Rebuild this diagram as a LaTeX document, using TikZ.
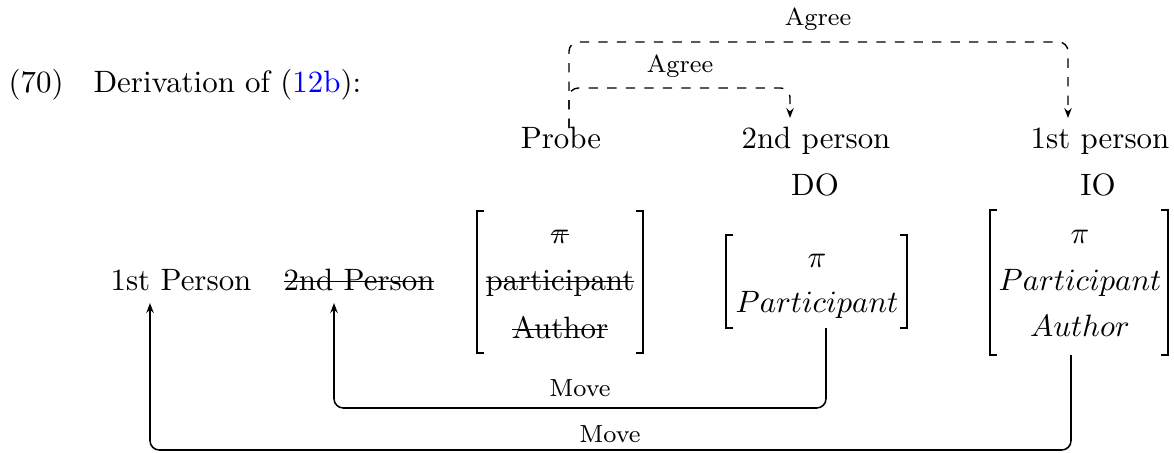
\documentclass[tikz,border=0pt]{standalone}
\usetikzlibrary{arrows.meta}
\newsavebox\strkbox
\newcommand\strk[1]{\sbox\strkbox{#1}\rlap{\rule[2.5pt]{\wd\strkbox}{0.4pt}}\usebox\strkbox}
\begin{document}
\begin{tikzpicture}[x=0.3236pt,y=-0.3236pt,
  txt/.style={inner sep=0pt, anchor=base},
  lbl/.style={font=\footnotesize, inner sep=0pt, anchor=base},
  agree/.style={dashed, line width=0.45pt, rounded corners=3pt, -{Stealth[length=3.2pt,width=2.4pt]}},
  move/.style={line width=0.5pt, rounded corners=3pt, -{Stealth[length=3.2pt,width=2.4pt]}},
  brk/.style={line width=0.45pt}]
\useasboundingbox (0,0) rectangle (1174,452);

% example heading
\node[txt, anchor=base west] (num) at (8,92) {(70)};
\node[txt, anchor=base west] (head) at (93,92) {Derivation of (\textcolor{blue}{12b}):};

% top row
\node[txt] (probe) at (561,148) {Probe};
\node[txt] (p2) at (816,148) {2nd person};
\node[txt] (p1) at (1100,148) {1st person};
\node[txt] (do) at (815,195) {DO};
\node[txt] (io) at (1098,195) {IO};

% left row
\node[txt] (f1) at (181,290) {1st Person};
\node[txt] (f2) at (359,290) {\strk{2nd Person}};

% bracket 1
\node[txt] (b1a) at (560,243) {\strk{$\pi$}};
\node[txt] (b1b) at (560,290) {\strk{participant}};
\node[txt] (b1c) at (560,338) {\strk{Author}};
\draw[brk] (484,211) -- (477,211) -- (477,353) -- (484,353);
\draw[brk] (636,211) -- (643,211) -- (643,353) -- (636,353);

% bracket 2
\node[txt] (b2a) at (817,267) {$\pi$};
\node[txt] (b2b) at (817,312) {$Participant$};
\draw[brk] (733,235) -- (726,235) -- (726,328) -- (733,328);
\draw[brk] (900,235) -- (907,235) -- (907,328) -- (900,328);

% bracket 3
\node[txt] (b3a) at (1080,243) {$\pi$};
\node[txt] (b3b) at (1080,290) {$Participant$};
\node[txt] (b3c) at (1080,336) {$Author$};
\draw[brk] (997,210) -- (990,210) -- (990,355) -- (997,355);
\draw[brk] (1161,210) -- (1168,210) -- (1168,355) -- (1161,355);

% connector end points
\coordinate (pr) at (569,128);
\coordinate (p2t) at (790,118);
\coordinate (p1t) at (1068,118);
\coordinate (b2foot) at (826,328);
\coordinate (b3foot) at (1071,355);
\coordinate (f1t) at (150,303);
\coordinate (f2t) at (334,303);

% Agree arrows
\draw[agree] (pr) -- (569,88) -- (790,88) -- (p2t);
\node[lbl] (ag1) at (680,72) {Agree};
\draw[agree] (pr) -- (569,42) -- (1068,42) -- (p1t);
\node[lbl] (ag2) at (818,25) {Agree};

% Move arrows
\draw[move] (b2foot) -- (826,408) -- (334,408) -- (f2t);
\node[lbl] (mv1) at (580,396) {Move};
\draw[move] (b3foot) -- (1071,450) -- (150,450) -- (f1t);
\node[lbl] (mv2) at (610,442) {Move};
\end{tikzpicture}
\end{document}
